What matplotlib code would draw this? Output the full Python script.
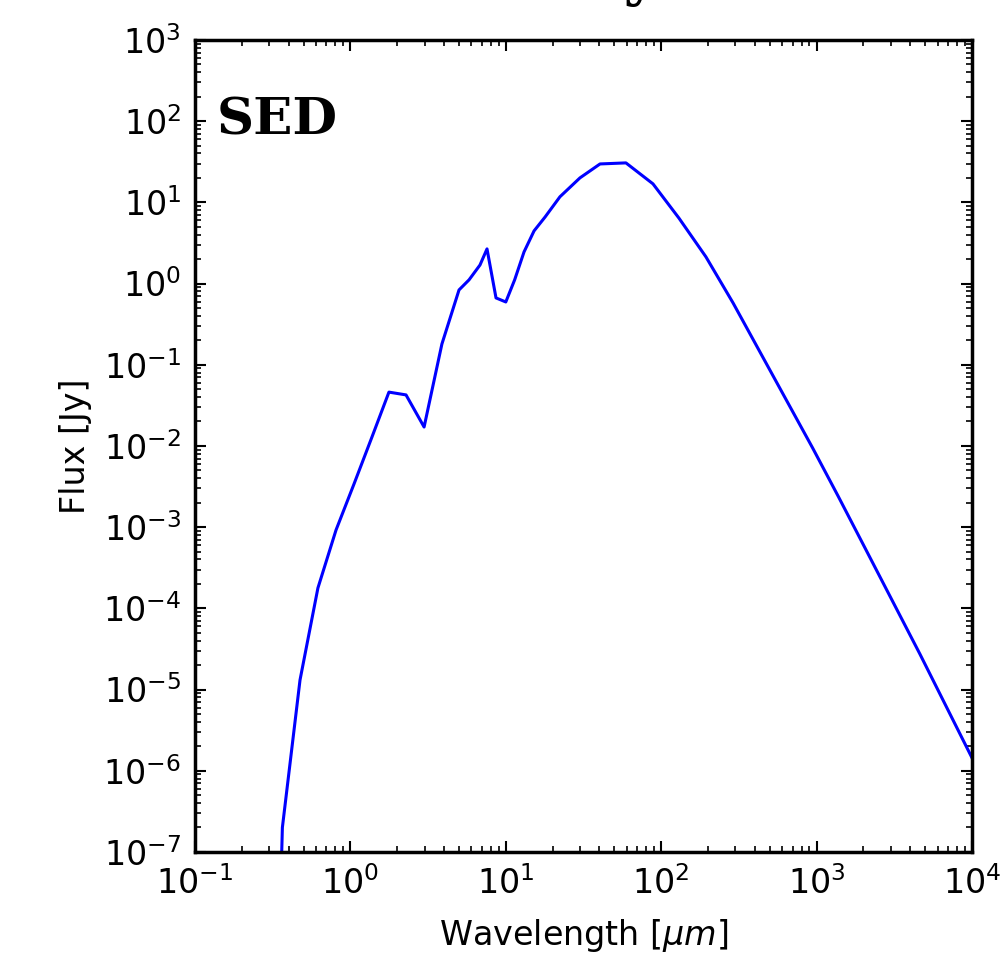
import numpy as np
import matplotlib.pyplot as plt
from matplotlib.ticker import LogLocator, NullFormatter

plt.rcParams['axes.unicode_minus'] = False

# SED values
wavelength = [0.35, 0.365, 0.474, 0.618, 0.808, 1.055, 1.377, 1.77, 2.28, 2.98,
              3.88, 5.0, 5.8, 6.82, 7.57, 8.65, 10.0, 11.4, 13.1, 15.2,
              17.9, 22.3, 30.0, 40.4, 59.3, 88.5, 130, 194, 290, 944,
              1374, 2080, 4620, 10000]
flux = [1e-8, 2e-7, 1.31e-5, 1.78e-4, 9.2e-4, 3.4e-3, 0.0129, 0.046, 0.0425, 0.0171,
        0.18, 0.834, 1.11, 1.69, 2.67, 0.665, 0.593, 1.11, 2.45, 4.45,
        6.6, 11.7, 20.0, 29.7, 30.6, 16.9, 6.4, 2.13, 0.577, 9.4e-3,
        2.42e-3, 5.24e-4, 2.74e-5, 1.44e-6]

fig = plt.figure(figsize=(10, 9.67), dpi=100)
ax = fig.add_axes([0.195, 0.119, 0.777, 0.8397])

ax.plot(wavelength, flux, color='blue', lw=2.2)
ax.set_xscale('log')
ax.set_yscale('log')
ax.set_xlim(0.1, 1e4)
ax.set_ylim(1e-7, 1e3)

# every decade labelled, minor ticks 2..9
for axis in (ax.xaxis, ax.yaxis):
    axis.set_major_locator(LogLocator(base=10, numticks=20))
    axis.set_minor_locator(LogLocator(base=10, subs=np.arange(2, 10), numticks=20))
    axis.set_minor_formatter(NullFormatter())

ax.set_xlabel(r'Wavelength [$\mu m$]', fontsize=24, labelpad=12)
ax.set_ylabel('Flux [Jy]', fontsize=24, labelpad=8)

ax.tick_params(which='both', direction='in', top=True, right=True, labelsize=24)
ax.tick_params(which='major', length=8, width=1.5, pad=10)
ax.tick_params(which='minor', length=4, width=1.2)
for s in ax.spines.values():
    s.set_linewidth(2.5)

ax.text(0.028, 0.93, 'SED', transform=ax.transAxes, fontsize=37,
        fontweight='bold', family='DejaVu Serif', va='top', ha='left')

# bottom of the cut-off title
fig.text(0.64, 1.005, 'y', fontsize=40, fontweight='bold', family='DejaVu Serif',
         ha='center', va='baseline')

plt.savefig('out.png')
